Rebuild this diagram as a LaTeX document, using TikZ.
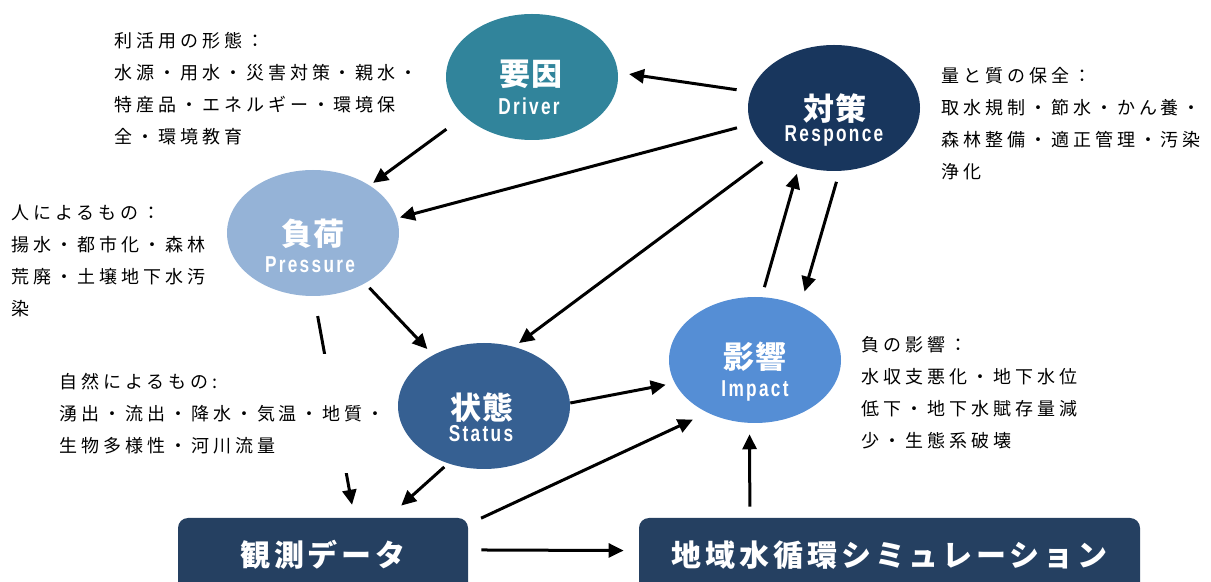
\documentclass[tikz,border=0pt]{standalone}
\usepackage{fontspec}
\usetikzlibrary{arrows.meta, shapes.geometric}

\newfontfamily\jpnote[LetterSpace=22]{Noto Sans CJK JP}
\newfontfamily\jplab[LetterSpace=6]{Noto Sans CJK JP}
\newfontfamily\jpbox[LetterSpace=13]{Noto Sans CJK JP}
\newfontfamily\enlab[FakeStretch=0.75, LetterSpace=10]{Liberation Sans}

\definecolor{drvcol}{RGB}{49,132,155}
\definecolor{rspcol}{RGB}{24,54,93}
\definecolor{prscol}{RGB}{149,179,215}
\definecolor{stscol}{RGB}{54,96,146}
\definecolor{impcol}{RGB}{85,142,213}
\definecolor{boxcol}{RGB}{37,64,97}

\begin{document}
\begin{tikzpicture}[x=0.5pt, y=-0.5pt,
    bubble/.style={ellipse, minimum width=86pt, minimum height=63pt, inner sep=0pt},
    kanji/.style={text=white, font=\jplab\bfseries\fontsize{15.5}{18}\selectfont},
    roman/.style={text=white, anchor=base, font=\enlab\bfseries\fontsize{11.5}{13}\selectfont},
    panel/.style={fill=boxcol, rounded corners=5pt, minimum height=37pt, inner sep=0pt,
                  text=white, font=\jpbox\bfseries\fontsize{15}{18}\selectfont},
    note/.style={align=left, anchor=west, inner sep=0pt, font=\jpnote\fontsize{9}{16}\selectfont},
    flow/.style={line width=1.5pt, -{Triangle[length=7.5pt, width=7pt]}}]
  \useasboundingbox (0,0) rectangle (1211,582);
  % bubbles and boxes
  \node[bubble, fill=drvcol] (drv) at (532,77) {};
  \node[bubble, fill=rspcol] (rsp) at (834,108) {};
  \node[bubble, fill=prscol] (prs) at (313,233) {};
  \node[bubble, fill=stscol] (sts) at (484,406) {};
  \node[bubble, fill=impcol] (imp) at (755,360) {};
  \node[panel, minimum width=145pt] (obs) at (323,555) {観測データ};
  \node[panel, minimum width=250.5pt] (sim) at (889.5,555) {地域水循環シミュレーション};
  % labels
  \node[kanji] (drvk) at (531,74) {要因};
  \node[roman] (drvr) at (529,115) {Driver};
  \node[kanji] (rspk) at (835,109) {対策};
  \node[roman] (rspr) at (834,142) {Responce};
  \node[kanji] (prsk) at (313,234) {負荷};
  \node[roman] (prsr) at (310,273) {Pressure};
  \node[kanji] (stsk) at (482,408) {状態};
  \node[roman] (stsr) at (481,442) {Status};
  \node[kanji] (impk) at (755,357) {影響};
  \node[roman] (impr) at (755,397) {Impact};
  % arrows
  \draw[flow, shorten <=7pt, shorten >=5.5pt] (rsp.169) -- (drv.3);
  \draw[flow, shorten <=11pt, shorten >=2pt] (drv.210) -- (prs.40);
  \draw[flow, shorten <=7pt, shorten >=1.5pt] (rsp.191) -- (prs.10);
  \draw[flow, shorten <=7pt, shorten >=3pt] (rsp.217) -- (sts.63);
  \draw[flow, shorten <=3pt, shorten >=4pt] (prs.316) -- (sts.135);
  \draw[flow, shorten <=5pt, shorten >=4pt] (imp.84) -- (rsp.239);
  \draw[flow, shorten <=5.5pt, shorten >=7.5pt] (rsp.275) -- (imp.50);
  \draw[flow, shorten >=4.5pt] (sts.2) -- (imp.196);
  \draw[flow, shorten <=2.5pt, shorten >=9pt] (sts.238) -- (obs.30);
  \draw[flow, shorten <=10pt, shorten >=6.5pt] (prs.271) -- (obs.50);
  \draw[flow, shorten <=7pt, shorten >=8pt] (obs.12) -- (imp.228);
  \draw[flow, shorten <=6.5pt, shorten >=7.5pt] (obs.2) -- (sim.179);
  \draw[flow, shorten <=5.5pt, shorten >=5.5pt] (sim.165) -- (imp.265);
  % notes
  \node[note] (use) at (114,89) {利活用の形態：\\水源・用水・災害対策・親水・\\特産品・エネルギー・環境保\\全・環境教育};
  \node[note] (hum) at (11,261) {人によるもの：\\揚水・都市化・森林\\荒廃・土壌地下水汚\\染};
  \node[note, fill=white, inner ysep=9.5pt] (nat) at (59,413.5) {自然によるもの:\\湧出・流出・降水・気温・地質・\\生物多様性・河川流量};
  \node[note] (res) at (941,124) {量と質の保全：\\取水規制・節水・かん養・\\森林整備・適正管理・汚染\\浄化};
  \node[note] (neg) at (861,392.5) {負の影響：\\水収支悪化・地下水位\\低下・地下水賦存量減\\少・生態系破壊};
\end{tikzpicture}
\end{document}
